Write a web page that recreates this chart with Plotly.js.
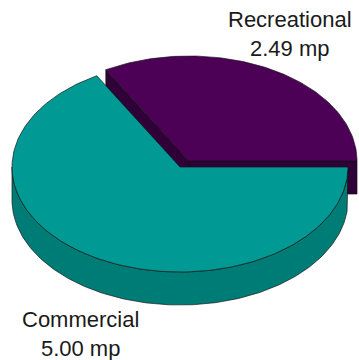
<!DOCTYPE html>
<html>
<head>
<meta charset="utf-8">
<script src="https://cdn.plot.ly/plotly-3.0.1.min.js"></script>
<style>html,body{margin:0;padding:0;background:#fff;}#chart{width:359px;height:360px;}</style>
</head>
<body>
<div id="chart"></div>
<script>
// ---- data ----
var categories = ["Recreational", "Commercial"];
var values = [2.49, 5.00];
var unit = "mp";

// ---- geometry / style (not data) ----
var W = 359, H = 360;
var cx = 180, cy = 167, rx = 168, ry = 105, depth = 33;
var pullDx = 9, pullDy = -6;           // explode offset for the first slice
var topColors = ["rgb(76,0,86)", "rgb(0,153,148)"];
var sideColors = ["rgb(48,0,56)", "rgb(0,124,119)"];
var edge = "rgba(20,20,20,0.85)";

var total = values.reduce(function(a,b){return a+b;}, 0);
var a0 = 0;
var a1 = 360 * values[0] / total;   // recreational spans 0..a1, commercial a1..360

function pt(ox, oy, deg, dz) {
  var r = deg * Math.PI / 180;
  return [ox + rx * Math.cos(r), oy - ry * Math.sin(r) + (dz || 0)];
}
function arc(ox, oy, d0, d1, dz) {
  var pts = [], n = Math.max(8, Math.ceil(Math.abs(d1 - d0)));
  for (var i = 0; i <= n; i++) pts.push(pt(ox, oy, d0 + (d1 - d0) * i / n, dz));
  return pts;
}
function poly(pts, fill) {
  var xs = pts.map(function(p){return p[0];}), ys = pts.map(function(p){return p[1];});
  xs.push(xs[0]); ys.push(ys[0]);
  return {type: "scatter", mode: "lines", x: xs, y: ys, fill: "toself",
          fillcolor: fill, line: {color: edge, width: 0.8}, hoverinfo: "skip"};
}

var traces = [];
// Recreational (pulled) slice
var rcx = cx + pullDx, rcy = cy + pullDy;
var tipL = pt(rcx, rcy, a1), tipR = pt(rcx, rcy, a0);
traces.push(poly([[rcx, rcy], tipL, [tipL[0], tipL[1] + depth], [rcx, rcy + depth]], sideColors[0]));
traces.push(poly([[rcx, rcy], tipR, [tipR[0], tipR[1] + depth], [rcx, rcy + depth]], sideColors[0]));
traces.push(poly([[rcx, rcy]].concat(arc(rcx, rcy, a0, a1)), topColors[0]));

// Commercial slice: front side wall (180..360) then top
var side = arc(cx, cy, 180, 360).concat(arc(cx, cy, 360, 180, depth));
traces.push(poly(side, sideColors[1]));
traces.push(poly([[cx, cy]].concat(arc(cx, cy, a1, 360)), topColors[1]));

// labels
var labelPos = [[290, 34], [80, 334]];
var annotations = categories.map(function(c, i){
  return {x: labelPos[i][0], y: labelPos[i][1], xref: "x", yref: "y",
          text: c + "<br>" + values[i].toFixed(2) + " " + unit,
          showarrow: false, xanchor: "center", yanchor: "middle",
          font: {family: "Liberation Sans, Arial, sans-serif", size: 22, color: "#1a1a1a"}};
});

var layout = {
  width: W, height: H, margin: {l: 0, r: 0, t: 0, b: 0},
  paper_bgcolor: "#ffffff", plot_bgcolor: "#ffffff", showlegend: false,
  xaxis: {range: [0, W], visible: false, fixedrange: true},
  yaxis: {range: [H, 0], visible: false, fixedrange: true},
  annotations: annotations
};
Plotly.newPlot("chart", traces, layout, {staticPlot: true, displayModeBar: false});
</script>
</body>
</html>
